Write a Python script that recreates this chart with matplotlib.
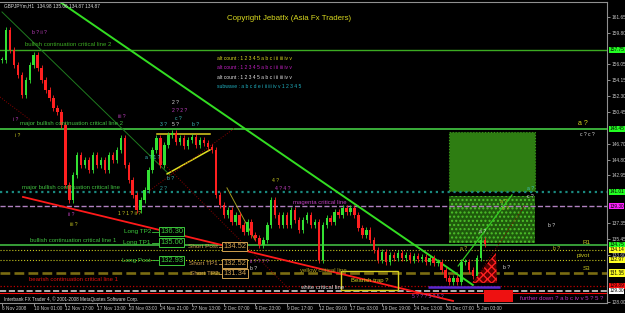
import matplotlib.pyplot as plt
from matplotlib.patches import Rectangle, Polygon

plt.rcParams['font.family'] = ['Liberation Sans', 'DejaVu Sans']

# GBPJPYm H1 closes
closes = [156.6, 160.1, 157.75, 156.0, 154.8, 152.4, 154.2, 156.0, 157.2, 155.6,
          154.2, 153.0, 152.1, 150.9, 150.4, 148.9, 141.8, 140.05, 143.0, 145.35,
          144.2, 144.75, 143.6, 145.35, 144.2, 144.75, 143.6, 145.35, 144.75, 145.95,
          147.35, 144.2, 142.4, 140.6, 138.85, 140.05, 141.2, 143.6, 145.95, 147.35,
          144.2, 146.5, 147.7, 147.95, 146.9, 147.35, 146.4, 147.1, 147.5, 146.5,
          147.1, 146.8, 146.3, 145.95, 140.6, 139.45, 138.3, 138.85, 137.45, 138.3,
          137.1, 136.3, 137.45, 135.9, 135.55, 134.7, 135.3, 137.1, 140.05, 138.3,
          137.1, 138.3, 137.1, 138.85, 137.7, 136.5, 137.7, 138.3, 137.1, 137.45,
          133.0, 137.1, 137.9, 137.45, 138.6, 138.3, 139.1, 138.6, 139.1, 138.3,
          136.75, 135.9, 136.5, 135.3, 134.1, 132.95, 133.9, 132.7, 133.55, 133.2,
          133.8, 133.2, 133.55, 132.95, 133.45, 133.1, 133.3, 132.7, 133.2, 132.6,
          132.7, 131.8, 130.85, 130.35, 130.85, 130.35, 132.7, 132.7, 131.8, 131.1,
          133.2, 135.3, 134.87]

time_labels = ['6 Nov 2008', '10 Nov 01:00', '12 Nov 17:00', '17 Nov 13:00', '20 Nov 03:00',
               '24 Nov 21:00', '27 Nov 13:00', '2 Dec 07:00', '4 Dec 23:00', '9 Dec 17:00',
               '12 Dec 09:00', '17 Dec 03:00', '19 Dec 19:00', '24 Dec 13:00', '30 Dec 07:00',
               '5 Jan 03:00']

axis_prices = [161.65, 159.80, 156.05, 154.15, 152.30, 150.45, 146.70, 144.80, 142.95,
               137.35, 135.45, 133.60, 128.00]

marked_prices = [157.75, 148.45, 141.01, 139.30, 134.75, 134.14, 132.97, 131.50, 131.35,
                 129.89, 129.30]
marked_colors = ['#22ff22', '#22ff22', '#22ff22', '#ff22ff', '#22ff22', '#ffff22', '#ffff22',
                 '#ffff22', '#ffff22', '#ff1010', '#ffffff']

# horizontal critical lines
levels = [157.75, 148.45, 141.01, 139.30, 134.75, 134.14, 132.97, 131.43, 129.89, 129.30, 129.06]
level_colors = ['#3caa22', '#44cc44', '#1a8a80', '#b080c0', '#40b840', '#c8c820', '#c8c820',
                '#7a6c12', '#c00000', '#d0d0d0', '#ff1010']
level_styles = ['-', '-', ':', '--', '-', ':', ':', '--', ':', '--', '-']
level_widths = [1.0, 1.2, 1.6, 1.0, 1.2, 0.8, 0.8, 1.9, 0.9, 1.2, 0.8]

# trend lines: (bar0, price0, bar1, price1)
green_trend = [13.9, 163.66, 118.9, 130.01]
green_up = [115.2, 132.25, 128.8, 140.64]
red_trend = [5.3, 140.4, 113.9, 128.12]
dark_green = [0.0, 162.24, 42.4, 142.99]
dark_red = [[-0.5, 152.2, 7.1, 149.5], [37.4, 141.2, 58.8, 148.55],
            [39.9, 144.77, 72.7, 129.42], [120.2, 131.19, 132.1, 139.45]]
olive_line = [56.8, 141.47, 63.9, 135.33]
tri_top = [39.1, 147.84, 52.5, 147.84]
tri_low = [41.7, 143.12, 52.5, 145.95]

trade_labels = ['Long TP2', 'Long TP1', 'Long Post', 'Short Post', 'Short TP1', 'Short TP2']
trade_prices = [136.30, 135.00, 132.93, 134.52, 132.52, 131.34]

wave_labels = [
    ('b ? ii ?', 7.6, 159.76, '#c040c0'), ('i ?', 2.8, 149.6, '#c040c0'),
    ('i ?', 3.3, 147.7, '#c8c820'), ('2 ?', 42.9, 151.5, '#e0e0e0'),
    ('2 ? 2 ?', 42.9, 150.55, '#c040c0'), ('c ?', 43.7, 149.7, '#40c0c0'),
    ('3 ?', 39.9, 148.9, '#40c0c0'), ('5 ?', 42.9, 148.9, '#e0e0e0'),
    ('b ?', 48.0, 148.9, '#40c0c0'), ('iii ?', 29.3, 149.85, '#c040c0'),
    ('a ? 1 ?', 36.1, 145.1, '#40c0c0'), ('b ?', 41.7, 142.6, '#40c0c0'),
    ('2 ?', 39.9, 141.34, '#30a0a0'), ('ii ?', 16.7, 138.27, '#c040c0'),
    ('iii ?', 17.2, 137.1, '#c8c820'), ('1 ? 1 ? ii ?', 29.3, 138.5, '#c8c820'),
    ('4 ?', 68.2, 142.4, '#c8c820'), ('4 ? 4 ?', 68.9, 141.34, '#c040c0'),
    ('ii ? ? ? ?', 62.6, 132.72, '#c040c0'), ('b ?', 62.6, 132.0, '#e0e0e0'),
    ('5 ? ? ? 5 ? 5 ?', 103.5, 128.59, '#b040c0'), ('a ?', 115.7, 134.26, '#c8c820'),
    ('b ?', 126.5, 132.02, '#e0e0e0'), ('a ?', 120.5, 136.27, '#e0e0e0'),
    ('c ?', 126.3, 138.98, '#c8c820'), ('a ?', 125.8, 139.81, '#c8c820'),
    ('b ?', 137.9, 136.97, '#e0e0e0'), ('b ?', 139.1, 134.26, '#c8c820'),
    ('c ? c ?', 146.0, 147.72, '#e0e0e0'), ('a ?', 132.6, 141.34, '#40c0c0'),
    ('c ?', 132.6, 140.4, '#e0e0e0'),
]

green = '#3cc83c'
short_col = '#d0a050'

fig = plt.figure(figsize=(6.25, 3.13), dpi=100, facecolor='black')
ax = fig.add_axes([0.0, 0.032, 0.9712, 0.9617], facecolor='black')
ax.set_xlim(-0.505, 152.78)
ax.set_ylim(127.88, 163.42)

# candles
opens = [closes[0]] + closes[:-1]
for i, (o, c) in enumerate(zip(opens, closes)):
    col = '#33e033' if c >= o else '#ff2020'
    ax.vlines(i, min(o, c) - 0.35, max(o, c) + 0.35, color=col, lw=0.6, zorder=3)
    ax.bar(i, max(abs(c - o), 0.08), bottom=min(o, c), width=0.6, color=col, lw=0, zorder=3)

# horizontal critical lines
for lv, col, ls, lw in zip(levels, level_colors, level_styles, level_widths):
    ax.axhline(lv, color=col, ls=ls, lw=lw, zorder=2)

# boxes
ax.add_patch(Rectangle((112.9, 141.11), 21.7, 6.96, facecolor='#2e7d12', edgecolor='#3a9a1a',
                       lw=0.8, ls=':', zorder=1))
ax.add_patch(Rectangle((112.9, 134.97), 21.7, 5.55, facecolor='#1f5a0c', edgecolor='#4cc02a',
                       hatch='....', lw=0, zorder=1))
ax.add_patch(Rectangle((121.7, 128.0), 7.3, 1.42, facecolor='#ee1111', lw=0, zorder=4))
ax.add_patch(Polygon([(118.7, 130.25), (124.7, 133.79), (125.0, 130.25)], closed=True,
                     facecolor='#5a0000', edgecolor='#ff2020', hatch='xxxx', lw=0, zorder=4))
ax.hlines(129.77, 107.6, 125.8, color='#5a2ad0', lw=1.8, zorder=2)
ax.add_patch(Rectangle((85.6, 129.42), 14.4, 2.24, facecolor='none', edgecolor='#d8d020',
                       lw=1.0, zorder=5))

# trend lines
for seg, col, lw, ls in [(green_trend, '#33dd22', 1.4, '-'), (green_up, '#33cc22', 0.9, '-'),
                         (red_trend, '#ff1a1a', 1.3, '-'), (dark_green, '#1f7a1f', 0.7, '-'),
                         (olive_line, '#a09a20', 0.7, '-'), (tri_top, '#e0d020', 1.1, '-'),
                         (tri_low, '#e0e020', 1.1, '-')]:
    ax.plot([seg[0], seg[2]], [seg[1], seg[3]], color=col, lw=lw, ls=ls, zorder=2)
for seg in dark_red:
    ax.plot([seg[0], seg[2]], [seg[1], seg[3]], color='#8a0000', lw=0.7, ls=':', zorder=2)

# line names
txt = dict(fontsize=4.3, va='center', zorder=6)
ax.text(5.8, 158.34, 'bullish continuation critical line 2', color='#3caa22', **txt)
ax.text(4.5, 149.02, 'major bullish continuation critical line 2', color='#40c040', **txt)
ax.text(5.1, 141.46, 'major bullish continuation critical line', color='#40c040', **txt)
ax.text(73.5, 139.69, 'magenta critical line', color='#c040c0', **txt)
ax.text(7.1, 135.2, 'bullish continuation critical line 1', color='#40c040', **txt)
ax.text(6.8, 130.6, 'bearish continuation critical line 1', color='#dd1010', **txt)
ax.text(75.3, 131.66, 'yellow critical line', color='#b0a020', **txt)
ax.text(75.3, 129.65, 'white critical line', color='#e0e0e0', **txt)
ax.text(92.8, 130.54, 'Bearish trap ?', color='#d8d020', ha='center', fontsize=4.3,
        va='center', zorder=6)
ax.text(130.8, 128.45, 'further down ? a b c iv v 5 ? 5 ?', color='#c030c0', fontsize=4.3,
        va='center', zorder=6)
ax.text(148.5, 134.97, 'R1', color='#c8c820', fontsize=4.5, va='center', ha='right')
ax.text(148.5, 133.43, 'pivot', color='#c8c820', fontsize=4.5, va='center', ha='right')
ax.text(148.5, 131.9, 'S3', color='#c8c820', fontsize=4.5, va='center', ha='right')
ax.text(148.0, 149.02, 'a ?', color='#d8d820', fontsize=5, va='center', ha='right')

# header
ax.text(0.5, 163.0, 'GBPJPYm,H1  134.98 135.06 134.87 134.87', color='#e0e0e0',
        fontsize=3.4, va='center')
ax.text(56.8, 161.41, 'Copyright Jebatfx (Asia Fx Traders)', color='#d8d820', fontsize=5.7,
        va='center')
for s, p, col in [('alt count : 1 2 3 4 5 a b c i ii iii iv v', 156.69, '#d8d820'),
                  ('alt count : 1 2 3 4 5 a b c i ii iii iv v', 155.63, '#c020c0'),
                  ('alt count : 1 2 3 4 5 a b c i ii iii iv v', 154.45, '#e0e0e0'),
                  ('subwave : a b c d e i ii iii iv v 1 2 3 4 5', 153.39, '#20b0c0')]:
    ax.text(54.3, p, s, color=col, fontsize=3.6, va='center')

# trade level tags
for name, price in zip(trade_labels, trade_prices):
    if name.startswith('Long'):
        tx, bx, col = 37.6, 42.8, green
    else:
        tx, bx, col = 54.6, 58.8, short_col
    ax.text(tx, price, name, color=col, fontsize=4.6, ha='right', va='center', zorder=6)
    ax.plot([tx + 0.2, bx - 3.0], [price, price], color=col, lw=0.6, zorder=6)
    ax.text(bx, price, f'{price:.2f}', color=col, fontsize=5.4, ha='center', va='center',
            zorder=6, bbox=dict(boxstyle='square,pad=0.15', facecolor='black', edgecolor=col,
                                lw=0.7))

for s, x, p, col in wave_labels:
    ax.text(x, p, s, color=col, fontsize=3.6, va='center', zorder=6)

# axes styling
ax.spines['left'].set_visible(False)
for side in ['top', 'right', 'bottom']:
    ax.spines[side].set_color('#909090')
    ax.spines[side].set_linewidth(0.8)
ax.yaxis.tick_right()
ax.set_yticks(axis_prices)
ax.set_yticklabels([f'{p:.2f}' for p in axis_prices])
ax.tick_params(axis='y', colors='#c8c8c8', labelsize=3.4, length=2, width=0.5, pad=1)
ax.set_xticks([8 * k for k in range(len(time_labels))])
ax.set_xticklabels(time_labels, ha='left')
ax.tick_params(axis='x', colors='#c8c8c8', labelsize=3.4, length=2, width=0.5, pad=0.5)

ytr = ax.get_yaxis_transform()
for p, col in zip(marked_prices, marked_colors):
    ax.text(1.004, p, f'{p:.2f}', transform=ytr, color='black', fontsize=3.4, va='center',
            clip_on=False, bbox=dict(boxstyle='square,pad=0.12', facecolor=col, lw=0))

ax.text(0.5, 128.35, 'Interbank FX Trader 4, \u00a9 2001-2008 MetaQuotes Software Corp.',
        color='#e0e0e0', fontsize=3.3, va='center', zorder=6)

fig.savefig('out.png', dpi=100, facecolor='black')
